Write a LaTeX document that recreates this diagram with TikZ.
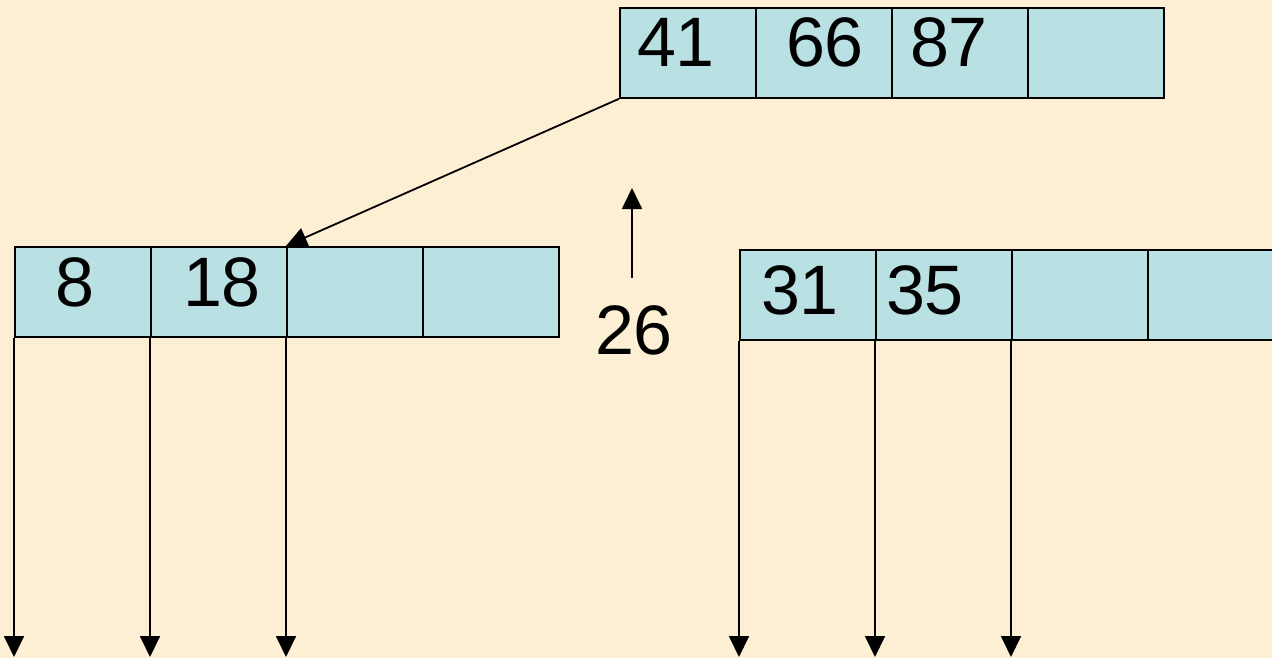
\documentclass[tikz,border=0pt]{standalone}
\usepackage{fontspec}
\setmainfont{Liberation Sans}
\usetikzlibrary{arrows.meta}
\definecolor{bgc}{HTML}{FCEFD3}
\definecolor{cellc}{HTML}{B9E0E3}
\tikzset{
  cell/.style={draw=black, line width=1.8pt, fill=cellc, minimum width=136pt, minimum height=90pt, inner sep=0pt, anchor=north west},
  num/.style={font=\fontsize{70}{80}\selectfont, inner sep=0pt},
  ptr/.style={line width=1.8pt, -{Triangle[length=21pt,width=20pt]}},
}
\begin{document}
\begin{tikzpicture}[x=1pt,y=-1pt]
\fill[bgc] (0,0) rectangle (1272,658);
\useasboundingbox (0,0) rectangle (1272,658);
% top node
\node[cell] (t1) at (619,7) {};
\node[cell] (t2) at (755,7) {};
\node[cell] (t3) at (891,7) {};
\node[cell] (t4) at (1027,7) {};
\node[num] (n41) at (676,42) {41};
\node[num] (n66) at (825,42) {66};
\node[num] (n87) at (949,42) {87};
% left node
\node[cell] (l1) at (14,246) {};
\node[cell] (l2) at (150,246) {};
\node[cell] (l3) at (286,246) {};
\node[cell] (l4) at (422,246) {};
\node[num] (n8) at (75,282) {8};
\node[num] (n18) at (222,282) {18};
% right node
\node[cell] (r1) at (739,249) {};
\node[cell] (r2) at (875,249) {};
\node[cell] (r3) at (1011,249) {};
\node[cell] (r4) at (1147,249) {};
\node[num] (n31) at (800,290) {31};
\node[num] (n35) at (925,290) {35};
% inserted key
\node[num] (n26) at (634,330) {26};
\coordinate (up) at (632,188);
\draw[ptr] (632,278) -- (up);
% pointer from top node to left node
\draw[ptr] (t1.south west) -- (l3.north west);
% child pointers
\coordinate (bot) at (0,657);
\draw[ptr] (l1.south west) -- (l1.south west |- bot);
\draw[ptr] (l2.south west) -- (l2.south west |- bot);
\draw[ptr] (l3.south west) -- (l3.south west |- bot);
\draw[ptr] (r1.south west) -- (r1.south west |- bot);
\draw[ptr] (r2.south west) -- (r2.south west |- bot);
\draw[ptr] (r3.south west) -- (r3.south west |- bot);
\end{tikzpicture}
\end{document}
